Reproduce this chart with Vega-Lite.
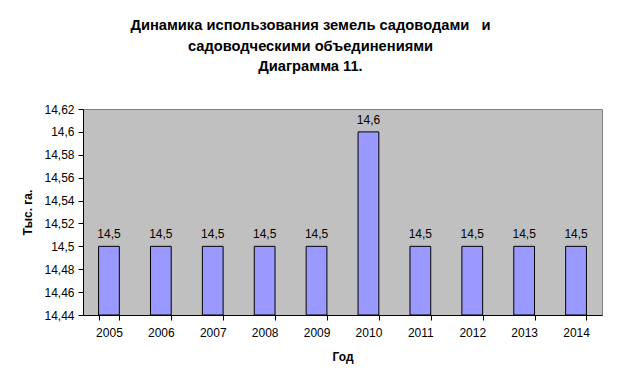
{
  "$schema": "https://vega.github.io/schema/vega-lite/v6.json",
  "width": 519,
  "height": 206,
  "autosize": {"type": "none"},
  "padding": {"left": 83, "top": 109, "right": 16, "bottom": 71},
  "background": "white",
  "config": {
    "locale": {"number": {"decimal": ",", "thousands": "\u00a0", "grouping": [3], "currency": ["", ""]}},
    "font": "Liberation Sans",
    "view": {"fill": "#C0C0C0", "stroke": "#808080", "strokeWidth": 1},
    "axis": {
      "domainColor": "black",
      "tickColor": "black",
      "tickSize": 5,
      "labelFont": "Liberation Sans",
      "labelFontSize": 12,
      "labelColor": "black",
      "titleFont": "Liberation Sans",
      "titleFontSize": 12,
      "titleFontWeight": "bold",
      "titleColor": "black",
      "grid": false
    }
  },
  "title": {
    "text": ["Динамика использования земель садоводами \u00a0 и", "садоводческими объединениями", "Диаграмма 11."],
    "font": "Liberation Sans",
    "fontSize": 14.7,
    "fontWeight": "bold",
    "color": "black",
    "lineHeight": 20.5,
    "anchor": "middle",
    "dx": -32,
    "offset": 29
  },
  "data": {
    "values": [
      {"year": "2005", "value": 14.5},
      {"year": "2006", "value": 14.5},
      {"year": "2007", "value": 14.5},
      {"year": "2008", "value": 14.5},
      {"year": "2009", "value": 14.5},
      {"year": "2010", "value": 14.6},
      {"year": "2011", "value": 14.5},
      {"year": "2012", "value": 14.5},
      {"year": "2013", "value": 14.5},
      {"year": "2014", "value": 14.5}
    ]
  },
  "encoding": {
    "x": {
      "field": "year",
      "type": "ordinal",
      "title": "Год",
      "scale": {"paddingInner": 0.6, "paddingOuter": 0.3},
      "axis": {"labelAngle": 0, "tickBand": "extent", "labelPadding": 7, "titlePadding": 13}
    },
    "y": {
      "field": "value",
      "type": "quantitative",
      "title": "Тыс. га.",
      "scale": {"domain": [14.44, 14.62], "zero": false, "nice": false},
      "axis": {
        "values": [14.44, 14.46, 14.48, 14.5, 14.52, 14.54, 14.56, 14.58, 14.6, 14.62],
        "format": ".2~f",
        "labelPadding": 4,
        "titlePadding": 9
      }
    }
  },
  "layer": [
    {
      "mark": {"type": "bar", "fill": "#9999FF", "stroke": "black", "strokeWidth": 1},
      "encoding": {"y2": {"datum": 14.44}}
    },
    {
      "mark": {"type": "text", "baseline": "bottom", "dy": -5, "fontSize": 12, "color": "black", "font": "Liberation Sans"},
      "encoding": {"text": {"field": "value", "type": "quantitative", "format": ".1f"}}
    }
  ]
}
